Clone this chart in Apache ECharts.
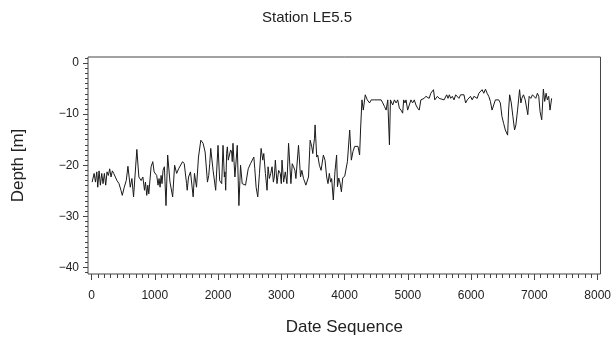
<!DOCTYPE html>
<html>
<head>
<meta charset="utf-8">
<script src="https://cdn.jsdelivr.net/npm/echarts@6/dist/echarts.min.js"></script>
<style>html,body{margin:0;padding:0;background:#fff}#c{width:614px;height:341px}</style>
</head>
<body>
<div id="c"></div>
<script>
const titleText = 'Station LE5.5';
const xName = 'Date Sequence';
const yName = 'Depth [m]';
const xTicks = [0,1000,2000,3000,4000,5000,6000,7000,8000];
const yTicks = [0,-10,-20,-30,-40];
const xs = [10,42,63,84,99,120,141,162,183,204,225,246,267,288,309,330,351,377,403,435,466,487,518,550,576,613,639,665,717,749,785,812,838,853,874,890,906,942,969,990,1011,1031,1052,1068,1084,1100,1115,1131,1152,1178,1204,1241,1283,1314,1346,1377,1408,1440,1466,1482,1503,1513,1534,1565,1607,1628,1660,1691,1728,1764,1796,1833,1853,1869,1885,1922,1963,2000,2026,2058,2079,2100,2110,2121,2136,2147,2162,2178,2199,2215,2225,2236,2267,2304,2330,2346,2356,2382,2435,2477,2513,2566,2581,2602,2628,2655,2681,2707,2723,2749,2775,2791,2812,2833,2854,2875,2890,2906,2932,2958,2984,3000,3011,3037,3063,3089,3115,3152,3173,3194,3215,3231,3272,3304,3325,3351,3372,3388,3430,3456,3482,3498,3508,3524,3534,3560,3576,3602,3629,3665,3691,3717,3738,3759,3780,3796,3822,3848,3874,3888,3908,3929,3950,3971,4003,4045,4081,4107,4133,4160,4186,4212,4238,4254,4275,4296,4327,4359,4395,4421,4474,4526,4578,4604,4631,4657,4683,4709,4725,4761,4788,4814,4840,4866,4892,4918,4934,4955,4971,4997,5023,5049,5075,5102,5128,5154,5180,5206,5259,5285,5311,5337,5363,5389,5405,5426,5447,5468,5494,5520,5573,5614,5635,5656,5677,5703,5730,5756,5782,5808,5834,5860,5887,5913,5939,5965,5991,6017,6044,6070,6096,6122,6148,6174,6200,6227,6253,6279,6305,6331,6357,6384,6410,6436,6462,6488,6514,6541,6577,6593,6609,6635,6661,6687,6708,6734,6750,6766,6787,6802,6828,6855,6881,6896,6917,6944,6970,6996,7022,7048,7069,7090,7116,7142,7163,7185,7205,7226,7247,7273];
const ys = [-23.3,-21.6,-23.3,-21.3,-24.3,-21.1,-23.9,-21.6,-23.6,-21.6,-23.9,-21.3,-22.0,-20.7,-22.3,-21.1,-21.6,-21.3,-23.0,-23.6,-24.9,-25.9,-24.3,-23.0,-20.2,-24.3,-22.6,-26.2,-16.9,-22.3,-23.0,-22.3,-24.9,-23.3,-25.9,-23.9,-25.6,-20.3,-19.3,-21.3,-21.0,-22.0,-23.9,-22.6,-24.3,-22.0,-23.6,-21.0,-20.3,-27.9,-18.0,-23.3,-26.2,-20.0,-21.6,-20.7,-21.0,-19.3,-19.7,-19.7,-23.6,-24.9,-22.3,-21.3,-26.2,-21.6,-24.3,-18.4,-15.1,-15.7,-17.4,-23.3,-22.0,-19.7,-16.7,-21.0,-24.9,-16.1,-23.0,-23.6,-16.1,-22.3,-21.3,-24.9,-17.7,-16.4,-19.0,-19.3,-17.0,-17.4,-19.3,-15.7,-22.3,-16.1,-27.9,-23.0,-20.0,-23.6,-23.9,-20.7,-19.7,-18.4,-20.7,-24.3,-26.2,-21.6,-16.7,-19.0,-17.7,-21.6,-24.9,-20.3,-22.6,-21.6,-20.3,-23.3,-22.3,-19.0,-23.6,-21.0,-21.6,-23.6,-19.0,-23.3,-21.3,-23.6,-15.7,-23.6,-19.7,-20.3,-21.0,-22.6,-16.1,-22.3,-21.0,-22.6,-23.3,-23.9,-22.3,-15.1,-16.4,-17.7,-16.4,-14.8,-12.1,-18.4,-18.0,-20.0,-21.0,-18.0,-19.0,-22.3,-23.6,-21.6,-23.3,-22.6,-26.8,-21.3,-18.0,-24.2,-22.5,-23.5,-25.2,-22.5,-22.1,-19.3,-13.1,-19.0,-17.3,-16.3,-16.0,-16.3,-18.0,-12.7,-7.2,-9.2,-6.2,-7.2,-7.8,-7.2,-7.2,-7.2,-7.2,-7.8,-8.5,-9.2,-7.2,-16.0,-7.2,-8.2,-7.2,-7.8,-7.2,-8.8,-9.2,-9.8,-7.2,-7.8,-7.2,-9.2,-8.2,-7.2,-7.8,-7.2,-8.2,-8.8,-9.2,-7.2,-6.9,-6.5,-6.2,-6.9,-5.9,-6.2,-5.2,-7.2,-7.5,-6.5,-6.9,-7.2,-7.2,-6.2,-6.9,-6.2,-6.9,-6.5,-7.2,-6.2,-6.2,-6.9,-6.2,-6.5,-6.2,-7.8,-7.2,-6.9,-6.5,-7.2,-6.5,-6.2,-6.9,-5.9,-6.2,-5.2,-5.9,-5.1,-5.9,-6.5,-7.5,-9.2,-8.2,-7.2,-7.1,-7.2,-7.8,-10.5,-11.8,-13.1,-14.1,-9.2,-6.2,-7.8,-10.5,-13.1,-12.1,-9.2,-7.2,-5.2,-7.8,-6.9,-6.2,-7.2,-6.9,-10.1,-6.5,-6.9,-6.2,-6.5,-6.9,-5.9,-6.5,-9.5,-11.1,-5.1,-7.5,-5.9,-7.2,-6.5,-9.2,-6.9];

const xMinor = [];
for (let v = 0; v <= 8000; v += 100) if (v % 1000) xMinor.push(v);
const yMinor = [];
for (let v = -41; v <= 1; v += 1) if (v % 10) yMinor.push(v);

const font = 'Liberation Sans, Arial, sans-serif';
const tc = '#222';
const ac = '#444';
const fmt = v => String(v).replace('-', '\u2212');

const chart = echarts.init(document.getElementById('c'), null, {renderer: 'canvas'});
chart.setOption({
  animation: false,
  backgroundColor: '#fff',
  title: {text: titleText, left: 'center', top: 5, textStyle: {fontFamily: font, fontSize: 15, fontWeight: 'normal', color: tc}},
  grid: {left: 88, right: 10, top: 57, bottom: 67, show: true, borderColor: ac, borderWidth: 1, backgroundColor: 'transparent'},
  xAxis: [{
    type: 'value', min: -55, max: 8045, position: 'bottom',
    name: xName, nameLocation: 'middle', nameGap: 45,
    nameTextStyle: {fontFamily: font, fontSize: 17, color: tc},
    axisLine: {show: false, onZero: false}, splitLine: {show: false},
    axisTick: {show: true, inside: false, length: 6, customValues: xTicks, lineStyle: {color: ac}},
    axisLabel: {customValues: xTicks, fontFamily: font, fontSize: 12, color: tc, margin: 16, formatter: fmt}
  }, {
    type: 'value', min: -55, max: 8045, position: 'bottom', offset: 0,
    axisLine: {show: false, onZero: false}, splitLine: {show: false},
    axisTick: {show: true, inside: false, length: 4, customValues: xMinor, lineStyle: {color: ac}},
    axisLabel: {show: false}
  }],
  yAxis: [{
    type: 'value', min: -41.3, max: 1.2, position: 'left',
    name: yName, nameLocation: 'middle', nameGap: 61, nameRotate: 90,
    nameTextStyle: {fontFamily: font, fontSize: 17, color: tc},
    axisLine: {show: false, onZero: false}, splitLine: {show: false},
    axisTick: {show: true, inside: false, length: 5, customValues: yTicks, lineStyle: {color: ac}},
    axisLabel: {customValues: yTicks, fontFamily: font, fontSize: 12, color: tc, margin: 9, formatter: fmt}
  }, {
    type: 'value', min: -41.3, max: 1.2, position: 'left', offset: 0,
    axisLine: {show: false, onZero: false}, splitLine: {show: false},
    axisTick: {show: true, inside: false, length: 3, customValues: yMinor, lineStyle: {color: ac}},
    axisLabel: {show: false}
  }],
  series: [{
    type: 'line', xAxisIndex: 0, yAxisIndex: 0,
    data: xs.map((x, i) => [x, ys[i]]),
    showSymbol: false, symbol: 'none',
    lineStyle: {color: '#1a1a1a', width: 1}
  }]
});
</script>
</body>
</html>
